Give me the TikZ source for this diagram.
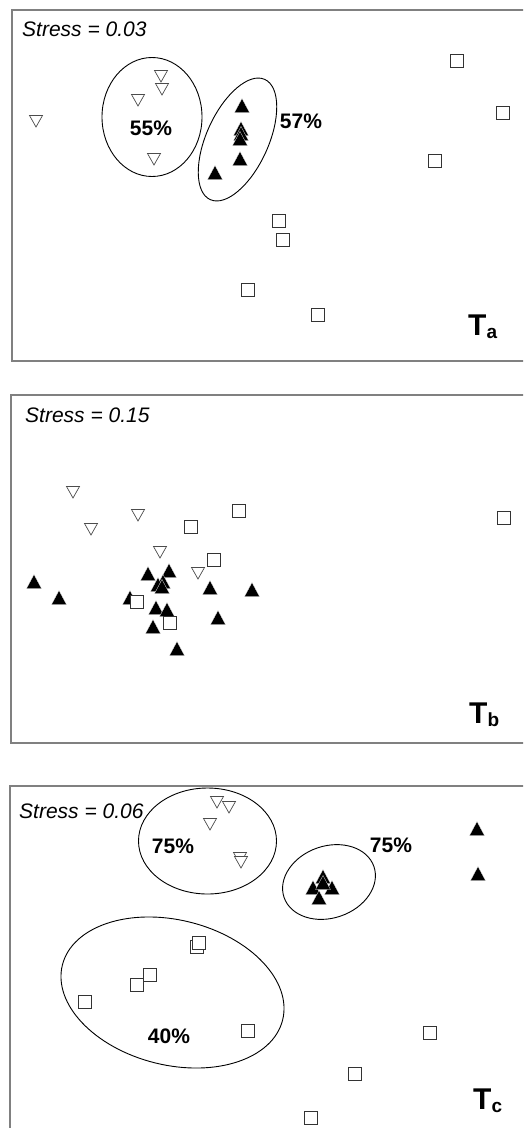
\documentclass[tikz,border=0pt]{standalone}
\usepackage{fontspec}
\setmainfont{Liberation Sans}
\usepackage{tikz}
\usetikzlibrary{shapes.geometric}
\newcommand{\tsub}[1]{\raisebox{-3pt}{\fontsize{19}{19}\selectfont #1}}

\tikzset{
  panel/.style={draw=black!50,line width=1.2pt},
  grp/.style={draw,ellipse,line width=0.9pt,inner sep=0pt},
  opensq/.style={draw=black!80,fill=white,line width=0.8pt},
  opendn/.style={draw=black!70,fill=white,line width=0.7pt},
  fullup/.style={fill=black,draw=white,line width=0.25pt},
  stresslbl/.style={anchor=base west,inner sep=0pt,font=\fontsize{21}{21}\selectfont\itshape},
  pct/.style={anchor=base,inner sep=0pt,font=\fontsize{21}{21}\selectfont\bfseries},
  tlbl/.style={anchor=base west,inner sep=0pt,font=\fontsize{30}{30}\selectfont\bfseries}
}

\begin{document}
\begin{tikzpicture}[x=1pt,y=-1pt]
  \useasboundingbox (0,0) rectangle (523,1128);
  \clip (0,0) rectangle (523,1128);
  % panel T_a
  \draw[panel] (12,10) rectangle (540,361);
  \node[stresslbl] (s1) at (22,36) {Stress = 0.03};
  \node[grp,minimum width=100pt,minimum height=119pt] (g55) at (152,117) {};
  \node[grp,minimum width=132pt,minimum height=62pt,rotate=65.6] (g57) at (237.5,139.5) {};
  \foreach \x/\y in {457/61,503/113,435/161,279/221,283/240,248/290,318/315}
    \draw[opensq] (\x-6.5,\y-6.5) rectangle (\x+6.5,\y+6.5);
  \foreach \x/\y in {36/121,161/76,162/89,138/100,154/159}
    \draw[opendn] (\x-6.5,\y-5.5) -- (\x+6.5,\y-5.5) -- (\x,\y+6) -- cycle;
  \foreach \x/\y in {242/106,241/129,241/134,240/139,240/159,215/173}
    \draw[fullup] (\x-7.5,\y+6.5) -- (\x+7.5,\y+6.5) -- (\x,\y-7.5) -- cycle;
  \node[pct] (p55) at (151,135) {55\%};
  \node[pct] (p57) at (301,128) {57\%};
  \node[tlbl] (ta) at (468,335) {T\tsub{a}};
  % panel T_b
  \draw[panel] (11,395) rectangle (540,743);
  \node[stresslbl] (s2) at (25,422) {Stress = 0.15};
  \foreach \x/\y in {73/492,91/529,138/515,160/552,198/573}
    \draw[opendn] (\x-6.5,\y-5.5) -- (\x+6.5,\y-5.5) -- (\x,\y+6) -- cycle;
  \foreach \x/\y in {34/582,59/598,148/574,169/571,163/582,158/585,162/587,130/598,
                     156/608,167/610,153/627,177/649,210/588,252/590,218/618}
    \draw[fullup] (\x-7.5,\y+6.5) -- (\x+7.5,\y+6.5) -- (\x,\y-7.5) -- cycle;
  \foreach \x/\y in {239/511,191/527,504/518,214/560,137/602,170/623}
    \draw[opensq] (\x-6.5,\y-6.5) rectangle (\x+6.5,\y+6.5);
  \node[tlbl] (tb) at (469,723) {T\tsub{b}};
  % panel T_c
  \draw[panel] (10,786) rectangle (540,1150);
  \node[stresslbl] (s3) at (19,818) {Stress = 0.06};
  \node[grp,minimum width=138pt,minimum height=106pt] (g75a) at (207.5,841) {};
  \node[grp,minimum width=95pt,minimum height=72pt,rotate=19] (g75b) at (329,882) {};
  \node[grp,minimum width=227pt,minimum height=145pt,rotate=-14] (g40) at (172.5,992.5) {};
  \foreach \x/\y in {217/802,229/807,210/824,240/858,241/862}
    \draw[opendn] (\x-6.5,\y-5.5) -- (\x+6.5,\y-5.5) -- (\x,\y+6) -- cycle;
  \foreach \x/\y in {477/829,478/874,323/877,313/888,332/888,319/898,323/883}
    \draw[fullup] (\x-7.5,\y+6.5) -- (\x+7.5,\y+6.5) -- (\x,\y-7.5) -- cycle;
  \foreach \x/\y in {197/947,199/943,150/975,137/985,85/1002,248/1031,430/1033,355/1074,311/1118}
    \draw[opensq] (\x-6.5,\y-6.5) rectangle (\x+6.5,\y+6.5);
  \node[pct] (p75a) at (173,853) {75\%};
  \node[pct] (p75b) at (391,852) {75\%};
  \node[pct] (p40) at (169,1043) {40\%};
  \node[tlbl] (tc) at (473,1109) {T\tsub{c}};
\end{tikzpicture}
\end{document}
